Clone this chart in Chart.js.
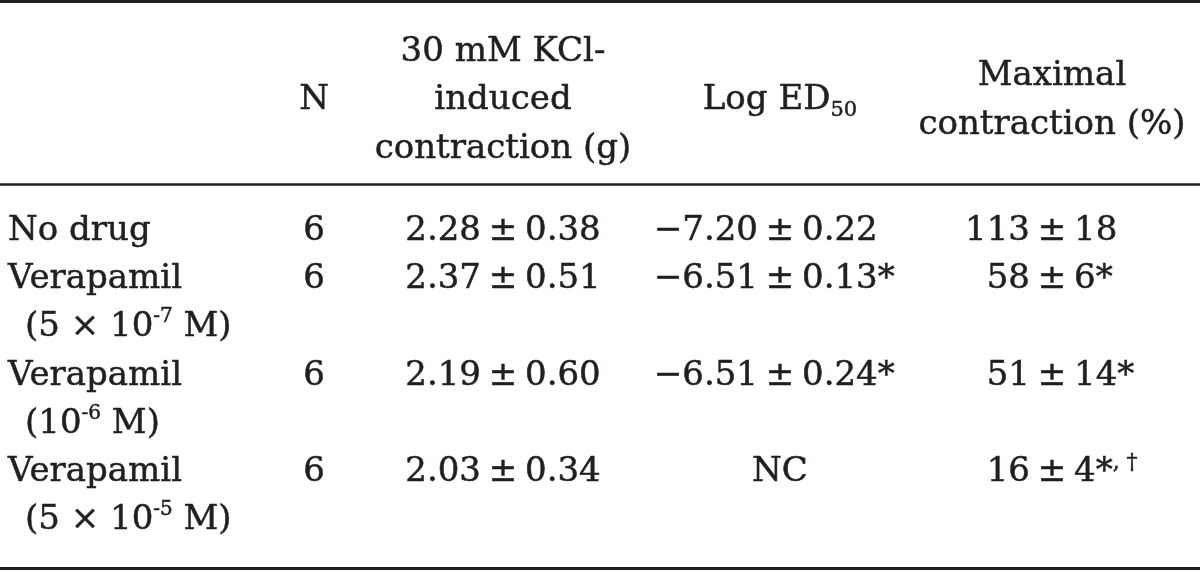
<!DOCTYPE html>
<html>
<head>
<meta charset="utf-8">
<script src="https://cdn.jsdelivr.net/npm/chart.js@4"></script>
<style>
  html, body { margin: 0; padding: 0; background: #fff; }
  #wrap { width: 1200px; height: 572px; }
</style>
</head>
<body>
<div id="wrap"><canvas id="tableChart" width="1200" height="572"></canvas></div>
<script>
// table contents
const groupNames = ['No drug', 'Verapamil', 'Verapamil', 'Verapamil'];
const doseCoef = ['', '5 \u00d7 ', '', '5 \u00d7 '];
const doseExp = ['', '-7', '-6', '-5'];
const nAnimals = [6, 6, 6, 6];
const kclMean = [2.28, 2.37, 2.19, 2.03];
const kclSem = [0.38, 0.51, 0.60, 0.34];
const logEdMean = [-7.20, -6.51, -6.51, null];
const logEdSem = [0.22, 0.13, 0.24, null];
const logEdFlag = ['', '*', '*', ''];
const maxMean = [113, 58, 51, 16];
const maxSem = [18, 6, 14, 4];
const maxFlag = ['', '*', '*', '*'];
const maxFlagSup = ['', '', '', ', \u2020'];
const headerLines = [[], ['N'], ['30 mM KCl-', 'induced', 'contraction (g)'], ['Log ED'], ['Maximal', 'contraction (%)']];
const headerSub = ['', '', '', '50', ''];
const notCalculated = 'NC';

// layout (x in px units, y in text-line units of ~48px)
const colX = [8, 314, 503, 780, 1052];
const doseIndent = 17;
const headerMid = 2.27;
const bodyTop = 4.98;
const ruleY = [0.031, 3.83, 11.795];
const ruleW = [3, 2.5, 3];
const FONT = '"DejaVu Serif", "Liberation Serif", serif';
const SIZE = 34;
const INK = '#231f20';

function fmt(v) {
  const s = Math.abs(v).toFixed(Number.isInteger(v) ? 0 : 2);
  return (v < 0 ? '\u2212' : '') + s;
}

const cells = [];
function addCell(col, line, cell) {
  cells.push({ x: colX[col] + (cell.indent || 0), y: line, cell });
}

// header
headerLines.forEach((lines, c) => {
  lines.forEach((txt, i) => {
    const runs = [{ t: txt }];
    if (i === lines.length - 1 && headerSub[c]) runs.push({ t: headerSub[c], size: 21, dy: 7 });
    addCell(c, headerMid - (lines.length - 1) / 2 + i, { align: c === 0 ? 'left' : 'center', runs });
  });
});

// body
let line = bodyTop;
groupNames.forEach((name, r) => {
  addCell(0, line, { align: 'left', runs: [{ t: name }] });
  addCell(1, line, { align: 'center', runs: [{ t: String(nAnimals[r]) }] });
  addCell(2, line, { align: 'pm', left: [{ t: fmt(kclMean[r]) }], right: [{ t: fmt(kclSem[r]) }] });
  if (logEdMean[r] === null) {
    addCell(3, line, { align: 'center', runs: [{ t: notCalculated }] });
  } else {
    addCell(3, line, { align: 'pm', left: [{ t: fmt(logEdMean[r]) }], right: [{ t: fmt(logEdSem[r]) + logEdFlag[r] }] });
  }
  const maxRight = [{ t: fmt(maxSem[r]) + maxFlag[r] }];
  if (maxFlagSup[r]) maxRight.push({ t: maxFlagSup[r], size: 22, dy: -12 });
  addCell(4, line, { align: 'pm', left: [{ t: fmt(maxMean[r]) }], right: maxRight });
  if (doseExp[r]) {
    line += 1;
    addCell(0, line, {
      align: 'left', indent: doseIndent,
      runs: [{ t: '(' + doseCoef[r] + '10' }, { t: doseExp[r], size: 20, dy: -14 }, { t: ' M)' }]
    });
  }
  line += 1;
});

function runFont(r) { return (r.size || SIZE) + 'px ' + FONT; }

function drawRuns(ctx, runs, x, y, align) {
  const widths = runs.map(r => { ctx.font = runFont(r); return ctx.measureText(r.t).width; });
  const total = widths.reduce((a, b) => a + b, 0);
  let start = align === 'center' ? x - total / 2 : align === 'right' ? x - total : x;
  runs.forEach((r, i) => {
    ctx.font = runFont(r);
    ctx.fillText(r.t, start, y + (r.dy || 0));
    ctx.strokeText(r.t, start, y + (r.dy || 0));
    start += widths[i];
  });
}

const tablePlugin = {
  id: 'tableText',
  afterDatasetsDraw(chart) {
    const { ctx, chartArea, scales } = chart;
    ctx.save();
    ctx.strokeStyle = INK;
    ruleY.forEach((v, i) => {
      const y = scales.y.getPixelForValue(v);
      ctx.lineWidth = ruleW[i];
      ctx.beginPath();
      ctx.moveTo(chartArea.left, y);
      ctx.lineTo(chartArea.right, y);
      ctx.stroke();
    });
    ctx.fillStyle = INK;
    ctx.lineWidth = 0.5;
    ctx.textAlign = 'left';
    ctx.textBaseline = 'alphabetic';
    const meta = chart.getDatasetMeta(0);
    meta.data.forEach((pt, i) => {
      const cell = chart.data.datasets[0].data[i].cell;
      if (cell.align === 'pm') {
        const gap = 22;
        drawRuns(ctx, cell.left, pt.x - gap, pt.y, 'right');
        drawRuns(ctx, [{ t: '\u00b1' }], pt.x, pt.y, 'center');
        drawRuns(ctx, cell.right, pt.x + gap, pt.y, 'left');
      } else {
        drawRuns(ctx, cell.runs, pt.x, pt.y, cell.align);
      }
    });
    ctx.restore();
  }
};

new Chart(document.getElementById('tableChart'), {
  type: 'scatter',
  data: {
    datasets: [{ data: cells, pointRadius: 0, pointHoverRadius: 0 }]
  },
  options: {
    responsive: false,
    animation: false,
    events: [],
    layout: { padding: 0 },
    plugins: { legend: { display: false }, tooltip: { enabled: false } },
    scales: {
      x: { type: 'linear', min: 0, max: 1200, display: false },
      y: { type: 'linear', min: 0, max: 11.867, reverse: true, display: false }
    }
  },
  plugins: [tablePlugin]
});
</script>
</body>
</html>
